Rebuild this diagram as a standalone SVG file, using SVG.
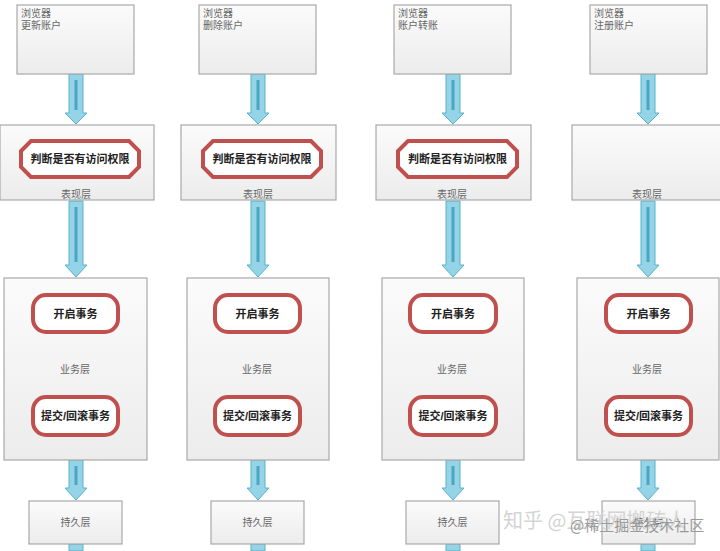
<svg xmlns="http://www.w3.org/2000/svg" width="720" height="551" viewBox="0 0 720 551">
<defs>
<linearGradient id="boxg" x1="0" y1="0" x2="0" y2="1">
<stop offset="0" stop-color="#fbfbfb"/><stop offset="1" stop-color="#ececec"/>
</linearGradient>
<style>
.box{fill:url(#boxg);stroke:#a9a9a9;stroke-width:1.2}
.oct{fill:#ffffff;stroke:#c0504d;stroke-width:4}
.rr{fill:#ffffff;stroke:#c0504d;stroke-width:4}
.arr{fill:#94d4e6;stroke:#58b2cc;stroke-width:1}
.core{stroke:#4aa6c3;stroke-width:3;fill:none}
.t{font-family:"Liberation Sans","Noto Sans CJK SC",sans-serif;font-size:10px;fill:#666666}
.tc{font-family:"Liberation Sans","Noto Sans CJK SC",sans-serif;font-size:10px;fill:#666666;text-anchor:middle}
.tb{font-family:"Liberation Sans","Noto Sans CJK SC",sans-serif;font-size:11px;font-weight:bold;fill:#222222;text-anchor:middle}
.wm{font-family:"Noto Sans CJK SC",sans-serif;text-anchor:start}
</style>
</defs>
<rect width="720" height="551" fill="#ffffff"/>

<g id="connectors">
<!-- col1 -->
<path class="arr" d="M69 74H83V113H87L76 124L65 113H69Z"/><path class="core" d="M76 80V110"/>
<path class="arr" d="M69 201H83V265H87L76 277L65 265H69Z"/><path class="core" d="M76 207V262"/>
<path class="arr" d="M69 460H83V488H87L76 500L65 488H69Z"/><path class="core" d="M76 466V485"/>
<path class="arr" d="M69 544H83V551H69Z"/>
<!-- col2 -->
<path class="arr" d="M251 74H265V113H269L258 124L247 113H251Z"/><path class="core" d="M258 80V110"/>
<path class="arr" d="M251 201H265V265H269L258 277L247 265H251Z"/><path class="core" d="M258 207V262"/>
<path class="arr" d="M251 460H265V488H269L258 500L247 488H251Z"/><path class="core" d="M258 466V485"/>
<path class="arr" d="M251 544H265V551H251Z"/>
<!-- col3 -->
<path class="arr" d="M446 74H460V113H464L453 124L442 113H446Z"/><path class="core" d="M453 80V110"/>
<path class="arr" d="M446 201H460V265H464L453 277L442 265H446Z"/><path class="core" d="M453 207V262"/>
<path class="arr" d="M446 460H460V488H464L453 500L442 488H446Z"/><path class="core" d="M453 466V485"/>
<path class="arr" d="M446 544H460V551H446Z"/>
<!-- col4 -->
<path class="arr" d="M641 74H655V113H659L648 124L637 113H641Z"/><path class="core" d="M648 80V110"/>
<path class="arr" d="M641 201H655V265H659L648 277L637 265H641Z"/><path class="core" d="M648 207V262"/>
<path class="arr" d="M641 460H655V488H659L648 500L637 488H641Z"/><path class="core" d="M648 466V485"/>
<path class="arr" d="M641 544H655V551H641Z"/>
</g>

<!-- Column 1 -->
<g id="browser1"><rect class="box" x="17" y="5" width="117" height="69"/><text class="t" x="21" y="17">浏览器</text><text class="t" x="21" y="29">更新账户</text></g>
<g id="present1"><rect class="box" x="0" y="125" width="154" height="75"/>
<polygon class="oct" points="31,141 129,141 139,151 139,167 129,177 31,177 21,167 21,151"/>
<text class="tb" x="80" y="163">判断是否有访问权限</text><text class="tc" x="76" y="198">表现层</text></g>
<g id="business1"><rect class="box" x="4" y="278" width="143" height="182"/>
<rect class="rr" x="33" y="295" width="85" height="37" rx="13"/><text class="tb" x="75.5" y="318">开启事务</text>
<text class="tc" x="75" y="373">业务层</text>
<rect class="rr" x="33" y="397" width="85" height="38" rx="13"/><text class="tb" x="75.5" y="420">提交/回滚事务</text></g>
<g id="persist1"><rect class="box" x="29" y="501" width="93" height="43"/><text class="tc" x="75.5" y="526">持久层</text></g>

<!-- Column 2 -->
<g id="browser2"><rect class="box" x="199" y="5" width="117" height="69"/><text class="t" x="203" y="17">浏览器</text><text class="t" x="203" y="29">删除账户</text></g>
<g id="present2"><rect class="box" x="181" y="125" width="155" height="75"/>
<polygon class="oct" points="213,141 311,141 321,151 321,167 311,177 213,177 203,167 203,151"/>
<text class="tb" x="262" y="163">判断是否有访问权限</text><text class="tc" x="258" y="198">表现层</text></g>
<g id="business2"><rect class="box" x="187" y="278" width="142" height="182"/>
<rect class="rr" x="215" y="295" width="85" height="37" rx="13"/><text class="tb" x="257.5" y="318">开启事务</text>
<text class="tc" x="257" y="373">业务层</text>
<rect class="rr" x="215" y="397" width="85" height="38" rx="13"/><text class="tb" x="257.5" y="420">提交/回滚事务</text></g>
<g id="persist2"><rect class="box" x="211" y="501" width="93" height="43"/><text class="tc" x="257.5" y="526">持久层</text></g>

<!-- Column 3 -->
<g id="browser3"><rect class="box" x="394" y="5" width="117" height="69"/><text class="t" x="398" y="17">浏览器</text><text class="t" x="398" y="29">账户转账</text></g>
<g id="present3"><rect class="box" x="376" y="125" width="155" height="75"/>
<polygon class="oct" points="408,141 507,141 517,151 517,167 507,177 408,177 398,167 398,151"/>
<text class="tb" x="457.5" y="163">判断是否有访问权限</text><text class="tc" x="452" y="198">表现层</text></g>
<g id="business3"><rect class="box" x="382" y="278" width="142" height="182"/>
<rect class="rr" x="410" y="295" width="86" height="37" rx="13"/><text class="tb" x="453" y="318">开启事务</text>
<text class="tc" x="452" y="373">业务层</text>
<rect class="rr" x="410" y="397" width="86" height="38" rx="13"/><text class="tb" x="453" y="420">提交/回滚事务</text></g>
<g id="persist3"><rect class="box" x="406" y="501" width="93" height="43"/><text class="tc" x="452.5" y="526">持久层</text></g>

<!-- Column 4 -->
<g id="browser4"><rect class="box" x="590" y="5" width="117" height="69"/><text class="t" x="594" y="17">浏览器</text><text class="t" x="594" y="29">注册账户</text></g>
<g id="present4"><rect class="box" x="572" y="125" width="156" height="75"/><text class="tc" x="647" y="198">表现层</text></g>
<g id="business4"><rect class="box" x="577" y="278" width="142" height="182"/>
<rect class="rr" x="606" y="295" width="85" height="37" rx="13"/><text class="tb" x="648.5" y="318">开启事务</text>
<text class="tc" x="647" y="373">业务层</text>
<rect class="rr" x="606" y="397" width="85" height="38" rx="13"/><text class="tb" x="648.5" y="420">提交/回滚事务</text></g>
<g id="persist4"><rect class="box" x="602" y="501" width="93" height="43"/><text class="tc" x="648.5" y="526">持久层</text></g>

<!-- watermarks -->
<text class="wm" x="503" y="528" font-size="20" fill="#d4d4d4">知乎 @互联网搬砖人</text>
<text class="wm" x="570" y="531" font-size="15" fill="#9a9a9a">@稀土掘金技术社区</text>
</svg>
